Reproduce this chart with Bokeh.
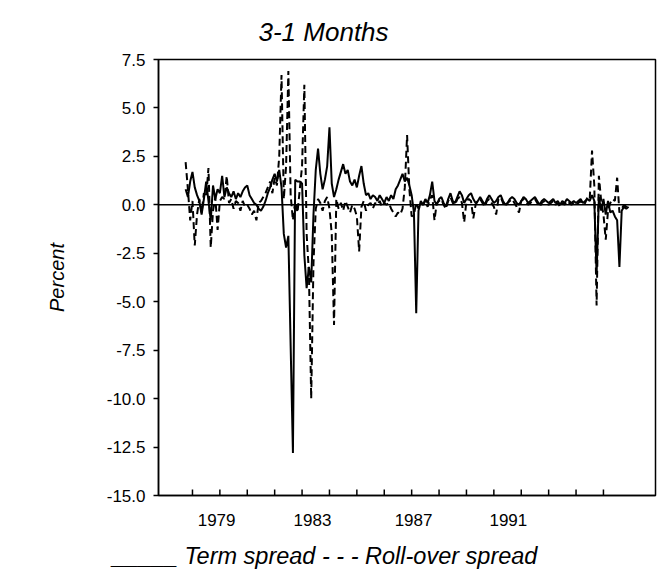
import numpy as np
from bokeh.plotting import figure
from bokeh.models import (FixedTicker, SingleIntervalTicker, NumeralTickFormatter, Span,
                          Range1d, Title)
from bokeh.embed import file_html
from bokeh.resources import INLINE

# Monthly observations, first month = October 1977
start_year = 1977.75

term_spread = [
    0.8, 0.4, 1.2, 1.7, 0.9, 0.5, 0.2, -0.5, 0.3, 1.2,
    0.2, -0.8, 1.0, 0.3, 0.8, 0.6, 1.5, 0.4, 0.9, 0.6,
    0.4, 0.7, 0.3, 0.6, 0.4, 0.7, 0.9, 1.0, 0.5, 0.3,
    0.1, 0.0, -0.2, -0.3, -0.1, 0.2, 0.6, 0.9, 1.3, 1.6,
    1.2, 1.8, 0.9, -1.5, -2.2, -1.6, -7.3, -12.8, 1.3, 1.2,
    1.2, 1.1, -2.6, -4.3, -3.2, -4.0, -0.5, 1.8, 2.9, 1.6,
    0.8, 1.3, 2.0, 4.0, 1.1, 0.4, 0.8, 1.3, 1.7, 2.1,
    1.6, 1.8, 1.2, 1.0, 1.3, 0.9, 1.5, 2.0, 1.1, 0.5,
    0.6, 0.3, 0.5, 0.4, 0.2, 0.5, 0.3, 0.1, 0.4, 0.2,
    0.5, 0.3, 0.8, 1.0, 1.3, 1.6, 1.2, 1.4, 1.0, 0.5,
    -0.4, -5.6, -0.3, 0.2, 0.0, 0.3, 0.1, 0.5, 1.2, 0.2,
    0.0, 0.3, 0.4, 0.1, -0.1, 0.3, 0.6, 0.2, 0.1, 0.4,
    0.7, 0.5, 0.1, 0.3, 0.5, 0.6, 0.3, 0.1, 0.2, 0.4,
    0.2, 0.0, 0.3, 0.5, 0.3, 0.1, 0.2, 0.4, 0.5, 0.2,
    0.0, 0.1, 0.3, 0.4, 0.3, 0.1, 0.0, 0.2, 0.4, 0.3,
    0.1, 0.2, 0.3, 0.4, 0.2, 0.0, 0.2, 0.3, 0.2, 0.1,
    0.2, 0.3, 0.1, 0.2, 0.0, 0.2, 0.1, 0.3, 0.2, 0.1,
    0.2, 0.1, 0.2, 0.3, 0.1, 0.2, 0.3, 0.2, 0.5, 0.2,
    -3.6, 0.4, -0.3, 0.3, -0.5, 0.2, -0.4, -0.3, -0.6, -0.8,
    -3.2, -0.3, -0.1, -0.2, -0.1,
]

rollover_spread = [
    2.2, 0.8, -0.8, 0.2, -2.1, -0.5, 0.3, -0.4, 0.6, 0.4,
    1.9, -2.2, -0.3, 0.4, -1.3, 0.2, 0.4, 0.3, 1.5, 0.1,
    0.3, -0.2, 0.2, 0.1, -0.3, 0.2, -0.1, 0.0, -0.2, -0.5,
    -0.3, -0.8, 0.1, 0.2, 0.4, 0.6, 0.9, 1.2, 0.6, 1.4,
    1.0, 2.5, 6.7, 0.3, 2.0, 6.9, 0.5, -0.8, 0.2, -0.4,
    0.8, 2.0, 6.2, -1.5, -3.5, -10.0, -3.0, -0.2, 0.3, 0.1,
    -0.3, 0.2, 0.4, -0.2, -1.5, -6.2, 0.3, -0.2, 0.1, -0.3,
    0.2, -0.1, -0.4, 0.0, -0.2, -0.6, -2.4, -0.1, 0.2, -0.3,
    0.0, 0.1, -0.2, 0.1, 0.0, 0.2, -0.1, 0.1, 0.0, 0.1,
    -0.2, -0.4, -0.6, -0.4, -0.5, -0.2, 0.9, 3.6, 0.8, -0.6,
    -0.5, 0.1, -0.2, 0.1, 0.0, 0.2, -0.1, 0.3, 0.5, -0.8,
    0.1, 0.2, 0.3, 0.0, -0.2, 0.2, 0.4, 0.1, 0.0, 0.3,
    0.4, 0.1, -0.9, 0.2, 0.3, 0.2, -0.7, 0.0, 0.2, 0.3,
    0.1, -0.1, 0.2, 0.3, 0.1, -0.1, -0.5, 0.3, 0.4, 0.1,
    -0.1, 0.1, 0.2, 0.3, 0.1, -0.1, -0.4, 0.2, 0.3, 0.2,
    0.0, 0.1, 0.2, 0.3, 0.1, -0.1, 0.1, 0.2, 0.1, 0.0,
    0.1, 0.2, 0.0, 0.1, -0.1, 0.1, 0.0, 0.2, 0.1, 0.0,
    0.1, 0.0, 0.1, 0.2, 0.0, 0.1, 0.4, 0.3, 2.8, 1.0,
    -5.2, 1.5, 0.2, -0.5, -1.8, -0.3, 0.1, 0.3, 0.2, 1.4,
    -0.4, -0.2, 0.0, -0.1, -0.2,
]

tick_years = list(range(1978, 1994))
year_labels = ["1979", "1983", "1987", "1991"]

months = np.arange(len(term_spread))
dates = start_year + months / 12.0

FONT = "Liberation Sans"
Y_MIN, Y_MAX = -15.0, 7.5

p = figure(
    width=666, height=585,
    output_backend="svg", toolbar_location=None,
    x_range=Range1d(1976.76, 1994.9), y_range=Range1d(Y_MIN, Y_MAX),
    min_border_left=158, min_border_right=11,
    min_border_top=59, min_border_bottom=90,
)
p.background_fill_color = "white"
p.border_fill_color = "white"
p.outline_line_color = "black"
p.outline_line_width = 1.5
p.xgrid.visible = False
p.ygrid.visible = False

# zero reference line
p.add_layout(Span(location=0, dimension="width", line_color="black", line_width=1.5))

p.line(dates, term_spread, line_color="black", line_width=2)
p.line(dates, rollover_spread, line_color="black", line_width=2, line_dash="7 4")

# short yearly tick marks standing up from the bottom of the frame
tick_len = (Y_MAX - Y_MIN) * 6 / 436
p.segment(x0=tick_years, y0=[Y_MIN] * len(tick_years),
          x1=tick_years, y1=[Y_MIN + tick_len] * len(tick_years),
          line_color="black", line_width=1.5)

# x axis: year labels only
label_pos = [1978.88, 1982.38, 1986.07, 1989.53]
p.xaxis.ticker = FixedTicker(ticks=label_pos)
p.xaxis.major_label_overrides = {pos: lab for pos, lab in zip(label_pos, year_labels)}
p.xaxis.axis_line_width = 1.5
p.xaxis.major_tick_line_color = None
p.xaxis.minor_tick_line_color = None
p.xaxis.major_label_standoff = 12
p.xaxis.major_label_text_font = FONT
p.xaxis.major_label_text_font_size = "17px"
p.xaxis.major_label_text_color = "black"

# y axis
p.yaxis.ticker = SingleIntervalTicker(interval=2.5)
p.yaxis.formatter = NumeralTickFormatter(format="0.0")
p.yaxis.major_tick_out = 5
p.yaxis.major_tick_in = 0
p.yaxis.minor_tick_line_color = None
p.yaxis.major_tick_line_width = 1.5
p.yaxis.axis_line_width = 1.5
p.yaxis.major_label_text_font = FONT
p.yaxis.major_label_text_font_size = "17px"
p.yaxis.major_label_text_color = "black"
p.yaxis.major_label_standoff = 8
p.yaxis.axis_label = "Percent"
p.yaxis.axis_label_text_font = FONT
p.yaxis.axis_label_text_font_size = "20px"
p.yaxis.axis_label_text_font_style = "italic"
p.yaxis.axis_label_text_color = "black"
p.yaxis.axis_label_standoff = 36

p.add_layout(Title(
    text="3-1 Months", align="left", offset=100, standoff=25,
    text_font=FONT, text_font_size="26px", text_font_style="italic",
    text_color="black",
), "above")
p.add_layout(Title(
    text="_____ Term spread - - - Roll-over spread", align="left", offset=-46,
    standoff=24, text_font=FONT, text_font_size="23.5px", text_font_style="italic",
    text_color="black",
), "below")

open("out.html", "w").write(file_html(p, INLINE))
